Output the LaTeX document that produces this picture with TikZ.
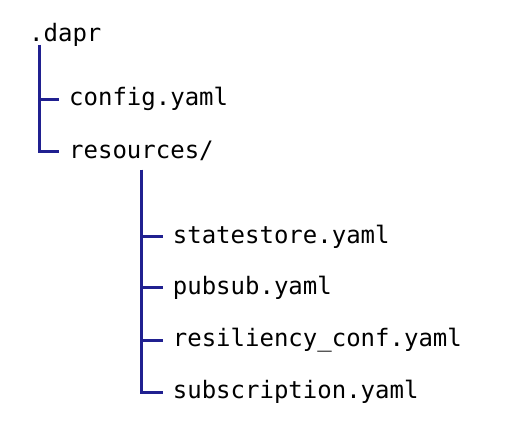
\documentclass[tikz,border=0pt]{standalone}
\usepackage{fontspec}
\setmonofont{DejaVu Sans Mono}
\definecolor{treeblue}{RGB}{32,32,144}
\tikzset{
  entry/.style={anchor=west, inner xsep=10pt, inner ysep=0pt, text height=13pt, text depth=0pt,
    font=\ttfamily\fontsize{24}{28}\selectfont},
  branch/.style={draw=treeblue, line width=3pt}
}
\begin{document}
\begin{tikzpicture}[x=1pt,y=1pt]
  % 画布
  \useasboundingbox (0,0) rectangle (514,-438);
  % 根目录
  \node[entry, inner xsep=0pt] (dapr) at (29,-35.5) {.dapr};
  % 第一层
  \node[entry] (config) at (59,-99.3) {config.yaml};
  \node[entry] (resources) at (59,-151.7) {resources/};
  % 第二层
  \node[entry] (statestore) at (162.7,-236.7) {statestore.yaml};
  \node[entry] (pubsub) at (162.7,-287.7) {pubsub.yaml};
  \node[entry] (resiliency) at (162.7,-340) {resiliency\_conf.yaml};
  \node[entry] (subscription) at (162.7,-392) {subscription.yaml};
  % 竖线起点
  \coordinate (rootstem) at (39,-45);
  \coordinate (resstem) at (141.5,-170);
  % 连线
  \draw[branch] (rootstem) |- (config.west);
  \draw[branch] (rootstem) |- (resources.west);
  \draw[branch] (resstem) |- (statestore.west);
  \draw[branch] (resstem) |- (pubsub.west);
  \draw[branch] (resstem) |- (resiliency.west);
  \draw[branch] (resstem) |- (subscription.west);
\end{tikzpicture}
\end{document}
